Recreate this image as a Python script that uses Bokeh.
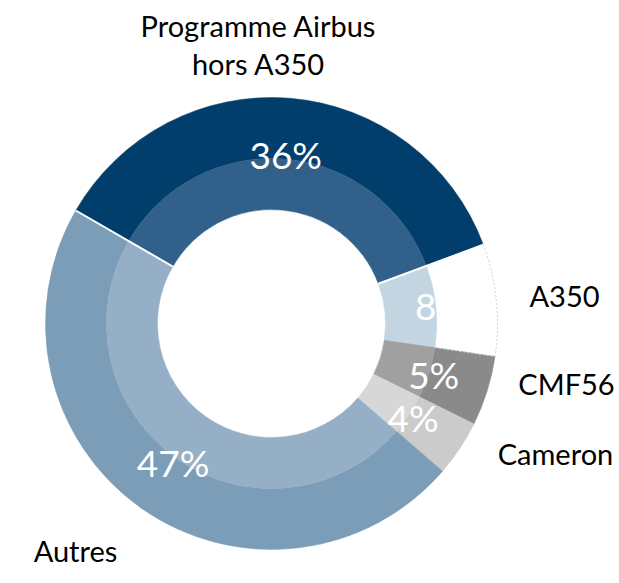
import math
from bokeh.plotting import figure
from bokeh.models import Range1d, ColumnDataSource
from bokeh.core.properties import value
from bokeh.embed import file_html
from bokeh.resources import INLINE

# ---- data ----
categories = ["Programme Airbus\nhors A350", "A350", "CMF56", "Cameron", "Autres"]
shares = [36, 8, 5, 4, 47]
pct_labels = ["36%", "8%", "5%", "4%", "47%"]
outer_colors = ["#023e6b", "#ffffff", "#8a8a8a", "#cbcbcb", "#7b9db7"]
inner_colors = ["#31618a", "#c4d5e2", "#a0a0a0", "#d7d7d7", "#95b0c6"]

# ---- layout (pixel-like data coordinates, y pointing up = -image y) ----
W, H = 617, 581
cx, cy = 271, -323
r_hole, r_mid, r_out = 114, 165, 226
r_lab = 170
start_deg = 150.0

total = float(sum(shares))
starts, ends, mids = [], [], []
a = math.radians(start_deg)
for v in shares:
    span = 2 * math.pi * v / total
    starts.append(a)
    ends.append(a - span)
    mids.append(a - span / 2)
    a -= span

p = figure(width=W, height=H, output_backend="svg", toolbar_location=None,
           x_range=Range1d(0, W), y_range=Range1d(-H, 0),
           min_border=0, outline_line_color=None)
p.axis.visible = False
p.grid.visible = False
p.background_fill_color = "white"
p.border_fill_color = "white"

src = ColumnDataSource(dict(start=starts, end=ends, oc=outer_colors, ic=inner_colors,
                            x=[cx] * len(shares), y=[cy] * len(shares)))

# outer ring
p.annular_wedge(x="x", y="y", inner_radius=r_mid, outer_radius=r_out,
                start_angle="start", end_angle="end", direction="clock",
                fill_color="oc", line_color="oc", line_width=0.5, source=src)
# inner (lighter) ring
p.annular_wedge(x="x", y="y", inner_radius=r_hole, outer_radius=r_mid,
                start_angle="start", end_angle="end", direction="clock",
                fill_color="ic", line_color="ic", line_width=0.5, source=src)

# dotted outline of the white A350 outer segment
i = categories.index("A350")
p.annular_wedge(x=cx, y=cy, inner_radius=r_mid, outer_radius=r_out,
                start_angle=starts[i], end_angle=ends[i], direction="clock",
                fill_color=None, line_color="#c4d5e2", line_dash="2 2", line_width=1)

# white separators around the Airbus segment
sep_angles = [starts[0], ends[0]]
p.segment(x0=[cx + r_hole * math.cos(t) for t in sep_angles],
          y0=[cy + r_hole * math.sin(t) for t in sep_angles],
          x1=[cx + r_out * math.cos(t) for t in sep_angles],
          y1=[cy + r_out * math.sin(t) for t in sep_angles],
          line_color="white", line_width=2)

# percentage labels
lab_x = [cx + r_lab * math.cos(t) for t in mids]
lab_y = [cy + r_lab * math.sin(t) for t in mids]
p.text(x=lab_x, y=lab_y, text=pct_labels, text_color="white",
       text_font=value("Lato"), text_font_size="37px",
       text_align="center", text_baseline="middle")

# category labels
name_x = [258, 564, 566, 555, 75]
name_y = [-44, -295, -383, -453, -550]
p.text(x=name_x, y=name_y, text=categories, text_color="black",
       text_font=value("Lato"), text_font_size="29px",
       text_align="center", text_baseline="middle", text_line_height=1.06)

open("out.html", "w").write(file_html(p, INLINE))
